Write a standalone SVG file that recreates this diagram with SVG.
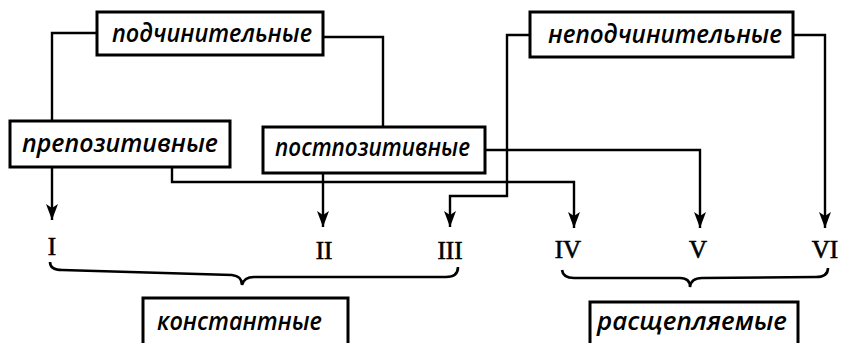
<svg xmlns="http://www.w3.org/2000/svg" width="845" height="343" viewBox="0 0 845 343">
<defs>
<marker id="arr" viewBox="0 0 16 12" refX="16" refY="6" markerWidth="16" markerHeight="12" markerUnits="userSpaceOnUse" orient="auto">
<path d="M0,0 L16,6 L0,12 L4,6 Z" fill="#000"/>
</marker>
<style>
.box{fill:#fff;stroke:#000;stroke-width:3}
.lbl{font-family:"Open Sans","Noto Sans","Liberation Sans",sans-serif;font-style:italic;font-weight:600;font-size:25px;fill:#000}
.num{font-family:"Liberation Serif",serif;font-size:25px;fill:#000;stroke:#000;stroke-width:0.6;text-anchor:middle}
.con{fill:none;stroke:#000;stroke-width:2.4}
.brace{fill:none;stroke:#000;stroke-width:2.6}
</style>
</defs>
<rect width="845" height="343" fill="#fff"/>
<g id="connectors">
<path class="con" d="M97 33 H52 V121"/>
<path class="con" d="M323 37 H383 V127"/>
<path class="con" d="M52 167 V220" marker-end="url(#arr)"/>
<path class="con" d="M172 168 V182 H574 V228" marker-end="url(#arr)"/>
<path class="con" d="M323 173 V227" marker-end="url(#arr)"/>
<path class="con" d="M485 150 H700 V228" marker-end="url(#arr)"/>
<path class="con" d="M530 35 H507 V196 H450 V227" marker-end="url(#arr)"/>
<path class="con" d="M793 35 H825 V228" marker-end="url(#arr)"/>
</g>
<g id="brace-left">
<path class="brace" d="M50 262 Q50 270 62 270 L232 275 Q242 276 242 285 Q244 277 254 277 L446 277 Q458 277 458 267"/>
</g>
<g id="brace-right">
<path class="brace" d="M562 270 Q563 278 574 278 L680 278 Q690 278 690 287 Q691 278 702 278 L816 277 Q828 277 828 268"/>
</g>
<g id="node-podch">
<rect class="box" x="97" y="12" width="226" height="43"/>
<text class="lbl" x="112" y="42" textLength="200" lengthAdjust="spacingAndGlyphs">подчинительные</text>
</g>
<g id="node-nepodch">
<rect class="box" x="530" y="12" width="263" height="45"/>
<text class="lbl" x="548" y="43" textLength="234" lengthAdjust="spacingAndGlyphs">неподчинительные</text>
</g>
<g id="node-prepoz">
<rect class="box" x="10" y="121" width="220" height="46"/>
<text class="lbl" x="22" y="152" textLength="196" lengthAdjust="spacingAndGlyphs">препозитивные</text>
</g>
<g id="node-postpoz">
<rect class="box" x="263" y="127" width="222" height="46"/>
<text class="lbl" x="275" y="156" textLength="195" lengthAdjust="spacingAndGlyphs">постпозитивные</text>
</g>
<g id="node-I"><text class="num" x="52" y="255">I</text></g>
<g id="node-II"><text class="num" x="324" y="259">II</text></g>
<g id="node-III"><text class="num" x="450" y="259">III</text></g>
<g id="node-IV"><text class="num" x="568" y="258">IV</text></g>
<g id="node-V"><text class="num" x="698" y="258">V</text></g>
<g id="node-VI"><text class="num" x="825" y="258">VI</text></g>
<g id="node-konst">
<rect class="box" x="143" y="298" width="205" height="60"/>
<text class="lbl" x="157" y="330" textLength="165" lengthAdjust="spacingAndGlyphs">константные</text>
</g>
<g id="node-rassch">
<rect class="box" x="590" y="302" width="208" height="60"/>
<text class="lbl" x="597" y="330" textLength="190" lengthAdjust="spacingAndGlyphs">расщепляемые</text>
</g>
</svg>
